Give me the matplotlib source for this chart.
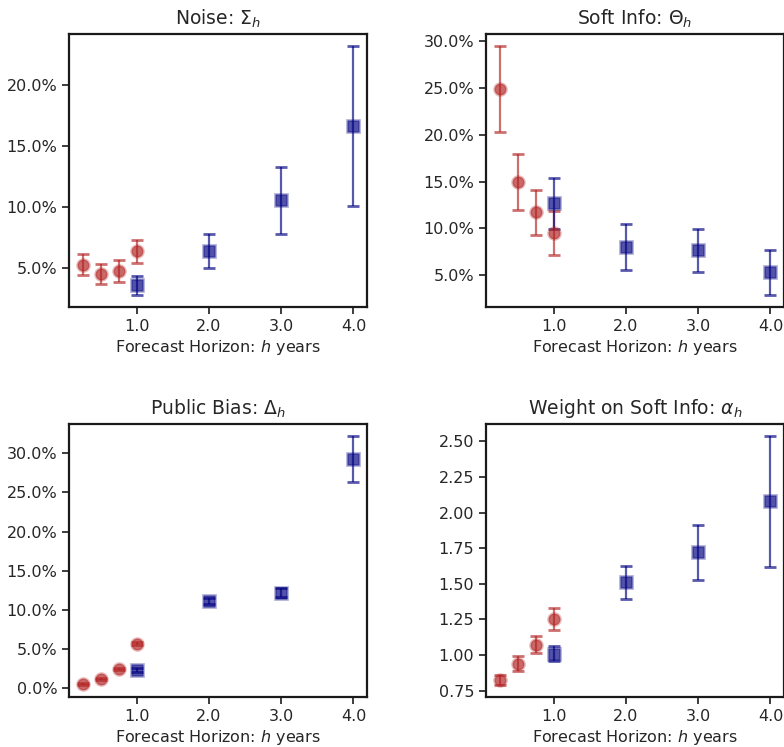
import matplotlib
matplotlib.use("Agg")
import matplotlib.pyplot as plt
import seaborn as sns
from matplotlib.colors import to_rgba
from matplotlib.ticker import PercentFormatter, FormatStrFormatter, MultipleLocator

sns.set_style("ticks")
plt.rcParams['font.family'] = ['DejaVu Sans']

# Horizons
h_short = [0.25, 0.5, 0.75, 1.0]
h_long = [1.0, 2.0, 3.0, 4.0]
xticks = [1.0, 2.0, 3.0, 4.0]

# Noise Sigma_h (percent)
noise_short = [5.27, 4.51, 4.78, 6.37]
noise_short_err = [0.86, 0.84, 0.88, 0.95]
noise_long = [3.61, 6.42, 10.55, 16.61]
noise_long_err = [0.78, 1.38, 2.76, 6.56]

# Soft info Theta_h (percent)
soft_short = [24.86, 14.96, 11.74, 9.50]
soft_short_err = [4.55, 3.01, 2.40, 2.34]
soft_long = [12.70, 8.01, 7.66, 5.35]
soft_long_err = [2.72, 2.46, 2.33, 2.40]

# Public bias Delta_h (percent)
bias_short = [0.55, 1.19, 2.46, 5.65]
bias_short_err = [0.12, 0.12, 0.15, 0.18]
bias_long = [2.33, 11.13, 12.20, 29.27]
bias_long_err = [0.25, 0.40, 0.55, 2.90]

# Weight on soft info alpha_h
alpha_short = [0.827, 0.938, 1.071, 1.254]
alpha_short_err = [0.035, 0.052, 0.059, 0.078]
alpha_long = [1.010, 1.509, 1.720, 2.078]
alpha_long_err = [0.055, 0.118, 0.196, 0.457]

titles = [r'Noise: $\Sigma_h$', r'Soft Info: $\Theta_h$',
          r'Public Bias: $\Delta_h$', r'Weight on Soft Info: $\alpha_h$']

W, H = 784, 747
fig = plt.figure(figsize=(W / 100, H / 100), dpi=100)

def rect(l, r, t, b):
    return [l / W, (H - b) / H, (r - l) / W, (b - t) / H]

rects = [rect(69, 367, 34, 307), rect(486, 784, 34, 307),
         rect(69, 367, 424, 697), rect(486, 784, 424, 697)]

panels = [
    (noise_short, noise_short_err, noise_long, noise_long_err, 'pct', 5),
    (soft_short, soft_short_err, soft_long, soft_long_err, 'pct', 5),
    (bias_short, bias_short_err, bias_long, bias_long_err, 'pct', 5),
    (alpha_short, alpha_short_err, alpha_long, alpha_long_err, 'num', 0.25),
]

red = 'firebrick'
blue = 'navy'

def eb(ax, x, y, e, fmt, c):
    ax.errorbar(x, y, yerr=e, fmt=fmt, color=to_rgba(c, 0.68),
                mfc=to_rgba(c, 0.68), mec=to_rgba(c, 0.3), ms=8.5, mew=2,
                ecolor=to_rgba(c, 0.65), elinewidth=1.6, capsize=4.5,
                capthick=1.3)

for r, title, (ys, es, yl, el, kind, step) in zip(rects, titles, panels):
    ax = fig.add_axes(r)
    eb(ax, h_short, ys, es, 'o', red)
    eb(ax, h_long, yl, el, 's', blue)
    ax.set_xticks(xticks)
    ax.xaxis.set_major_formatter(FormatStrFormatter('%.1f'))
    ax.yaxis.set_major_locator(MultipleLocator(step))
    if kind == 'pct':
        ax.yaxis.set_major_formatter(PercentFormatter(xmax=100, decimals=1))
    else:
        ax.yaxis.set_major_formatter(FormatStrFormatter('%.2f'))
    ax.set_xlabel(r'Forecast Horizon: $h$ years', fontsize=11.5, labelpad=3)
    ax.set_title(title, fontsize=13.5, pad=7)
    ax.tick_params(labelsize=11.5, length=5, width=1.25, color='.15')
    for s in ax.spines.values():
        s.set_color('.1')
        s.set_linewidth(1.6)

fig.savefig('out.png', dpi=100)
